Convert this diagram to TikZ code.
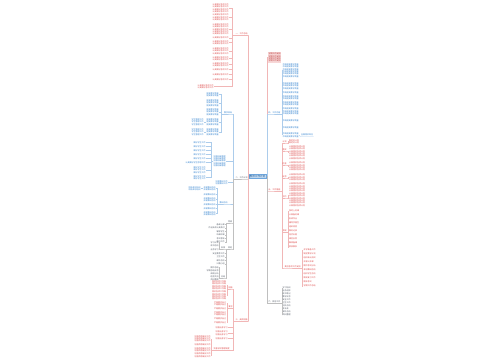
\documentclass[tikz,border=0pt]{standalone}
\usepackage{fontspec}
\setmainfont{Noto Sans CJK SC}
\usetikzlibrary{positioning}

\definecolor{mapred}{RGB}{220,72,72}
\definecolor{mapblue}{RGB}{48,128,206}
\definecolor{mapgray}{RGB}{84,92,104}

% n lines of the same text
\newcommand\mlines[2]{#2\ifnum#1>1 \\\expandafter\mlines\expandafter{\the\numexpr#1-1\relax}{#2}\fi}
\newcommand\mapfont{\fontsize{2}{2.4}\selectfont}

\begin{document}
\begin{tikzpicture}[x=1pt,y=-1pt,
    rootbox/.style={fill=mapblue!30,draw=mapblue!70,text=mapblue!75!black,
      font=\fontsize{2.6}{3}\selectfont,inner xsep=1pt,inner ysep=0.7pt},
    lab/.style={font=\mapfont,inner sep=0.3pt},
    blk/.style={font=\mapfont,inner sep=0.3pt,align=left},
    link/.style={draw=#1,line width=0.3pt},
    link/.default=black!25
    ]
  \useasboundingbox (0,0) rectangle (500,360);

  \node (root) [rootbox] at (257.5,176.5) {教师工作计划};

  % left: summary
  \node (la) [lab,text=mapred,anchor=south east] at (248,35.5) {一、工作总结};
  \draw[link=mapred!40] (root.west) -- ++(-0.6,0) |- (la.south east) -- (la.south west);
  \foreach \x/\y/\n [count=\i] in {229/3/4,229/13.5/3,229/23/5,229/36.5/1,229/40/2,229/47/3,
      229/56/2,229/62/2,229/68/1,229/73/1,229/78/1,214/84/2}
    {\node (a\i) [blk,text=mapred,anchor=north east] at (\x,\y) {\mlines{\n}{认真做好各项工作}};
     \draw[link=mapred!40] (la.south west) -- ++(-2.5,0) |- (a\i.east);}

  % left: plan
  \node (lb) [lab,text=mapgray,anchor=south east] at (248,179) {二、工作计划};
  \draw[link] (root.west) -- ++(-0.6,0) |- (lb.south east) -- (lb.south west);

  \node (lb1) [lab,text=mapblue,anchor=south east] at (232.5,114) {教学目标};
  \draw[link=mapblue!40] (lb.south west) -- ++(-1.5,0) |- (lb1.south east) -- (lb1.south west);
  \foreach \y/\n [count=\i] in {92/2,99/3,108/3,118/3,128/3}
    {\node (b\i) [blk,text=mapblue,anchor=north east] at (219,\y) {\mlines{\n}{提高教学质量}};
     \draw[link=mapblue!40] (lb1.south west) -- ++(-2,0) |- (b\i.east);}
  \node (b6) [blk,text=mapblue,left=2pt of b4] {\mlines{3}{学生管理工作}};
  \node (b7) [blk,text=mapblue,left=2pt of b5] {\mlines{3}{学生管理工作}};
  \draw[link=mapblue!40] (b4.west) -- (b6.east);
  \draw[link=mapblue!40] (b5.west) -- (b7.east);

  \node (lb2) [blk,text=mapblue,anchor=north east] at (226,155) {\mlines{5}{加强班级管理}};
  \draw[link=mapblue!40] (lb.south west) -- ++(-1.5,0) |- (lb2.east);
  \foreach \y/\n/\t [count=\i] in {141/1/做好学生工作,145/1/做好学生工作,149/1/做好学生工作,
      153/1/做好学生工作,157/1/做好学生工作,161/1/认真做好学生思想工作,166/3/做好学生工作,
      175/2/做好学生工作}
    {\node (c\i) [blk,text=mapblue,anchor=north east] at (206,\y) {\mlines{\n}{\t}};
     \draw[link=mapblue!40] (lb2.west) -- ++(-2,0) |- (c\i.east);}

  \node (lb3) [blk,text=mapblue,anchor=north east] at (228,180) {\mlines{2}{加强教研工作}};
  \draw[link=mapblue!40] (lb.south west) -- ++(-1.5,0) |- (lb3.east);
  \node (lb4) [lab,text=mapblue,anchor=south east] at (228,204) {教研活动};
  \draw[link=mapblue!40] (lb.south west) -- ++(-1.5,0) |- (lb4.south east) -- (lb4.south west);
  \foreach \y/\n [count=\i] in {186/2,193/1,197/2,203/1,207/1,211/2}
    {\node (d\i) [blk,text=mapblue,anchor=north east] at (216,\y) {\mlines{\n}{开展教研活动}};
     \draw[link=mapblue!40] (lb4.south west) -- ++(-2,0) |- (d\i.east);}
  \node (d7) [blk,text=mapblue,left=2pt of d1] {\mlines{2}{积极参加培训}};
  \draw[link=mapblue!40] (d1.west) -- (d7.east);

  \node (lb5) [lab,text=mapgray,anchor=south east] at (232.5,223) {常规};
  \draw[link] (lb.south west) -- ++(-1.5,0) |- (lb5.south east) -- (lb5.south west);
  \foreach \y/\t [count=\i] in {223/备课上课,226.5/作业批改认真及时,230/辅导学生,
      233.5/听课评课,237/考试考核,240.5/家访工作}
    {\node (e\i) [lab,text=mapgray,anchor=north east] at (225,\y) {\t};
     \draw[link] (lb5.south west) -- ++(-1.5,0) |- (e\i.east);}

  \node (lb6) [lab,text=mapgray,anchor=south east] at (232.5,249) {其他};
  \draw[link] (lb.south west) -- ++(-1.5,0) |- (lb6.south east) -- (lb6.south west);
  \node (lb6a) [lab,text=mapgray,anchor=south east] at (225.5,249) {安排};
  \node (lb6b) [lab,text=mapgray,anchor=south east] at (225.5,278) {总结};
  \draw[link] (lb6.south west) -- ++(-1,0) |- (lb6a.south east) -- (lb6a.south west);
  \draw[link] (lb6.south west) -- ++(-1,0) |- (lb6b.south east) -- (lb6b.south west);
  \foreach \y/\t [count=\i] in {241/学习计划,244.5/读书活动,248/业务学习}
    {\node (f\i) [lab,text=mapgray,anchor=north east] at (219,\y) {\t};
     \draw[link] (lb6a.south west) -- ++(-1.5,0) |- (f\i.east);}
  \foreach \y/\t [count=\i] in {252/安全教育工作,255.5/卫生工作,259/课外活动,262.5/兴趣小组}
    {\node (g\i) [lab,text=mapgray,anchor=north east] at (225,\y) {\t};
     \draw[link] (lb6.south west) -- ++(-1,0) |- (g\i.east);}
  \foreach \y/\t [count=\i] in {266/期中总结,269/学期总结反思,272/成绩分析,275/经验交流,278/资料整理}
    {\node (h\i) [lab,text=mapgray,anchor=north east] at (219,\y) {\t};
     \draw[link] (lb6b.south west) -- ++(-1.5,0) |- (h\i.east);}

  % left: measures
  \node (ld) [lab,text=mapred,anchor=south east] at (248,321) {三、具体措施};
  \draw[link=mapred!40] (root.west) -- ++(-0.6,0) |- (ld.south east) -- (ld.south west);
  \node (ld1) [lab,text=mapred,anchor=south east] at (233,289) {措施};
  \node (ld2) [lab,text=mapred,anchor=south east] at (233,308) {要求};
  \draw[link=mapred!40] (ld.south west) -- ++(-1.5,0) |- (ld1.south east) -- (ld1.south west);
  \draw[link=mapred!40] (ld.south west) -- ++(-1.5,0) |- (ld2.south east) -- (ld2.south west);
  \foreach \y/\n [count=\i] in {280/4,290.5/4}
    {\node (k\i) [blk,text=mapred,anchor=north east] at (226.5,\y) {\mlines{\n}{落实各项工作制}};
     \draw[link=mapred!40] (ld1.south west) -- ++(-1,0) |- (k\i.east);}
  \foreach \y/\n [count=\i] in {301/2,307/1,311/2,317/1,321/1}
    {\node (m\i) [blk,text=mapred,anchor=north east] at (226.5,\y) {\mlines{\n}{严格要求自己}};
     \draw[link=mapred!40] (ld2.south west) -- ++(-1,0) |- (m\i.east);}
  \foreach \y/\n [count=\i] in {326/1,330.5/2,337/1}
    {\node (n\i) [blk,text=mapred,anchor=north east] at (228,\y) {\mlines{\n}{加强自身学习}};
     \draw[link=mapred!40] (ld.south west) -- ++(-1.5,0) |- (n\i.east);}
  \node (ld3) [lab,text=mapred,anchor=south east] at (230,350) {完善学校管理制度};
  \draw[link=mapred!40] (ld.south west) -- ++(-1.5,0) |- (ld3.south east) -- (ld3.south west);
  \foreach \y/\n [count=\i] in {335/3,343/1,347/2,352.5/2}
    {\node (p\i) [blk,text=mapred,anchor=north east] at (211,\y) {\mlines{\n}{加强师德建设工作}};
     \draw[link=mapred!40] (ld3.south west) -- ++(-1.5,0) |- (p\i.east);}

  % right: arrangement
  \node (ra) [blk,fill=mapred!22,text=mapred!85!black,anchor=west,inner sep=0.6pt] at (267.8,57.5) {\mlines{4}{学期工作安排}};
  \draw[link=mapred!40] (root.east) -- ++(0.8,0) |- (ra.west);

  % right: contents
  \node (rb) [lab,text=mapblue,anchor=south west] at (267.8,114) {四、工作内容};
  \draw[link=mapblue!40] (root.east) -- ++(0.8,0) |- (rb.south west) -- (rb.south east);
  \foreach \y/\n [count=\i] in {63/6,82/3,91/1,95/2,101/2,107.5/3,119.5/1,126.5/1,132.5/2}
    {\node (q\i) [blk,text=mapblue,anchor=north west] at (282,\y) {\mlines{\n}{不断提高教学质量}};
     \draw[link=mapblue!40] (rb.south east) -- ++(1.2,0) |- (q\i.west);}
  \node (qx) [lab,text=mapblue,right=1.5pt of q9] {全面落实到位};
  \draw[link=mapblue!40] (q9.east) -- (qx.south west) -- (qx.south east);

  % right: steps
  \node (rc) [lab,text=mapred,anchor=south west] at (267.8,191) {五、工作措施};
  \draw[link=mapred!40] (root.east) -- ++(0.8,0) |- (rc.south west) -- (rc.south east);
  \foreach \y/\t/\by/\n/\s [count=\i] in {143/计划/139/2/制定好计划,151/落实/145/6/认真落实各项计划,
      165/检查/161.5/4/认真落实各项计划,178/反思/173.5/3/认真落实各项计划,
      198/评价/182.5/10/认真落实各项计划}
    {\node (r\i) [lab,text=mapred,anchor=south west] at (282,\y) {\t};
     \node (s\i) [blk,text=mapred,anchor=north west] at (288.5,\by) {\mlines{\n}{\s}};
     \draw[link=mapred!40] (rc.south east) -- ++(1.2,0) |- (r\i.south west) -- (r\i.south east)
       -- ++(0.8,0) |- (s\i.west);}
  \node (r6) [lab,text=mapred,anchor=south west] at (282,232) {常规};
  \draw[link=mapred!40] (rc.south east) -- ++(1.2,0) |- (r6.south west) -- (r6.south east);
  \foreach \y/\t [count=\i] in {209.5/按时上好课,213.5/认真备好课,217.5/批改作业,221.5/辅导学困生,
      225.5/组织测验,229.5/做好记录,233.5/培优补差,237.5/课后反思,241.5/集体备课,245.5/家校联系}
    {\node (t\i) [lab,text=mapred,anchor=north west] at (288.5,\y) {\t};
     \draw[link=mapred!40] (r6.south east) -- ++(0.8,0) |- (t\i.west);}
  \node (r7) [lab,text=mapred,anchor=south west] at (284,268) {其他各项工作安排};
  \draw[link=mapred!40] (rc.south east) -- ++(1.2,0) |- (r7.south west) -- (r7.south east);
  \foreach \y/\t [count=\i] in {248.5/开学准备工作,252.5/制定教学计划,256.5/组织单元测试,
      260.5/开展公开课,264.5/期中考试分析,268.5/参加教研活动,272.5/组织学生活动,
      276.5/期末复习工作,280.5/期末考试,284.5/学期工作总结}
    {\node (u\i) [lab,text=mapred,anchor=north west] at (303,\y) {\t};
     \draw[link=mapred!40] (r7.south east) -- ++(1.2,0) |- (u\i.west);}

  % right: others
  \node (rd) [lab,text=mapgray,anchor=south west] at (267.8,303) {六、其他工作};
  \draw[link] (root.east) -- ++(0.8,0) |- (rd.south west) -- (rd.south east);
  \foreach \y/\t [count=\i] in {286.5/学习培训,289.5/业务进修,292.5/读书笔记,295.5/教学反思,
      298.5/安全工作,301.5/卫生工作,304.5/班队活动,307.5/家长会,310.5/课外活动,313.5/资料整理}
    {\node (v\i) [lab,text=mapgray,anchor=north west] at (282,\y) {\t};
     \draw[link] (rd.south east) -- ++(1.2,0) |- (v\i.west);}
\end{tikzpicture}
\end{document}
